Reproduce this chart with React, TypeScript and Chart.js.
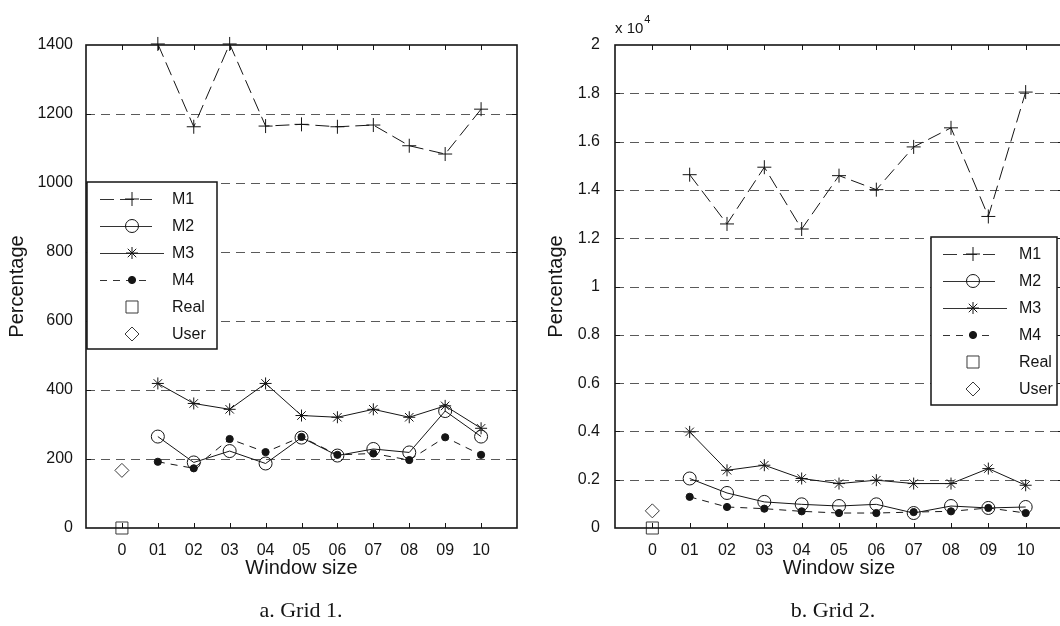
import React, { useEffect, useRef } from 'react';
import { Chart, registerables } from 'chart.js';
import { drawPoint } from 'chart.js/helpers';

Chart.register(...registerables);

// ---------- data ----------
const windowSizes = [1, 2, 3, 4, 5, 6, 7, 8, 9, 10];
const xTickValues = [0, 1, 2, 3, 4, 5, 6, 7, 8, 9, 10];
const xTickLabels = ['0', '01', '02', '03', '04', '05', '06', '07', '08', '09', '10'];
const seriesNames = ['M1', 'M2', 'M3', 'M4', 'Real', 'User'];

// Grid 1
const grid1M1 = [1403, 1163, 1403, 1165, 1170, 1163, 1168, 1108, 1084, 1214];
const grid1M2 = [265, 190, 223, 187, 262, 210, 229, 219, 339, 265];
const grid1M3 = [419, 361, 344, 419, 326, 321, 344, 321, 354, 289];
const grid1M4 = [192, 173, 258, 220, 264, 212, 216, 197, 263, 212];
const grid1Real = [0];
const grid1User = [167];
const grid1YTicks = [0, 200, 400, 600, 800, 1000, 1200, 1400];

// Grid 2
const grid2M1 = [14630, 12590, 14940, 12380, 14590, 14010, 15780, 16570, 12900, 18050];
const grid2M2 = [2050, 1450, 1080, 980, 910, 980, 620, 910, 830, 870];
const grid2M3 = [3980, 2390, 2600, 2050, 1840, 1980, 1840, 1840, 2460, 1770];
const grid2M4 = [1290, 870, 800, 690, 620, 620, 660, 690, 830, 620];
const grid2Real = [0];
const grid2User = [710];
const grid2YTicks = [0, 2000, 4000, 6000, 8000, 10000, 12000, 14000, 16000, 18000, 20000];

const FONT = '"Liberation Sans", Arial, Helvetica, sans-serif';
const INK = '#151515';

function pts(xs: number[], ys: number[]) {
  return ys.map((y, i) => ({ x: xs[i], y }));
}

function buildDatasets(m1: number[], m2: number[], m3: number[], m4: number[], real: number[], user: number[]) {
  const base = { clip: false as any, borderColor: INK, borderWidth: 1, pointBorderColor: INK, pointBorderWidth: 1, tension: 0 };
  return [
    { ...base, label: seriesNames[0], data: pts(windowSizes, m1), showLine: true, borderDash: [14, 6], pointStyle: 'cross', pointRadius: 7, pointBackgroundColor: 'rgba(0,0,0,0)', legendLine: 52 },
    { ...base, label: seriesNames[1], data: pts(windowSizes, m2), showLine: true, borderDash: [], pointStyle: 'circle', pointRadius: 6.5, pointBackgroundColor: 'rgba(0,0,0,0)', legendLine: 52 },
    { ...base, label: seriesNames[2], data: pts(windowSizes, m3), showLine: true, borderDash: [], pointStyle: 'star', pointRadius: 6, pointBackgroundColor: 'rgba(0,0,0,0)', legendLine: 64 },
    { ...base, label: seriesNames[3], data: pts(windowSizes, m4), showLine: true, borderDash: [7, 6], pointStyle: 'circle', pointRadius: 3.6, pointBackgroundColor: INK, legendLine: 52 },
    { ...base, label: seriesNames[4], data: pts([0], real), showLine: false, pointStyle: 'rect', pointRadius: 8.5, pointBorderColor: '#3a3a3a', pointBackgroundColor: 'rgba(0,0,0,0)', legendLine: 0 },
    { ...base, label: seriesNames[5], data: pts([0], user), showLine: false, pointStyle: 'rectRot', pointRadius: 7, pointBorderColor: '#3a3a3a', pointBackgroundColor: 'rgba(0,0,0,0)', legendLine: 0 },
  ];
}

const decorPlugin = {
  id: 'decor',
  beforeDatasetsDraw(chart: any, _args: any, opts: any) {
    const { ctx, chartArea } = chart;
    const y = chart.scales.y;
    ctx.save();
    ctx.strokeStyle = '#5a5a5a';
    ctx.lineWidth = 1.1;
    ctx.setLineDash([9, 6]);
    (opts.yTicks as number[]).forEach((v, i, arr) => {
      if (i === 0 || i === arr.length - 1) return;
      const py = Math.round(y.getPixelForValue(v)) + 0.5;
      ctx.beginPath();
      ctx.moveTo(chartArea.left, py);
      ctx.lineTo(chartArea.right, py);
      ctx.stroke();
    });
    ctx.restore();
  },
  afterDatasetsDraw(chart: any, _args: any, opts: any) {
    const { ctx, chartArea } = chart;
    const xs = chart.scales.x;
    const ys = chart.scales.y;
    ctx.save();
    // axes box
    ctx.strokeStyle = INK;
    ctx.lineWidth = 1.6;
    ctx.setLineDash([]);
    ctx.strokeRect(chartArea.left, chartArea.top, chartArea.right - chartArea.left, chartArea.bottom - chartArea.top);
    // inward ticks
    ctx.lineWidth = 1;
    const tl = 5;
    xTickValues.forEach((v) => {
      const px = Math.round(xs.getPixelForValue(v)) + 0.5;
      ctx.beginPath();
      ctx.moveTo(px, chartArea.bottom);
      ctx.lineTo(px, chartArea.bottom - tl);
      ctx.moveTo(px, chartArea.top);
      ctx.lineTo(px, chartArea.top + tl);
      ctx.stroke();
    });
    (opts.yTicks as number[]).forEach((v, i, arr) => {
      if (i === 0 || i === arr.length - 1) return;
      const py = Math.round(ys.getPixelForValue(v)) + 0.5;
      ctx.beginPath();
      ctx.moveTo(chartArea.left, py);
      ctx.lineTo(chartArea.left + tl, py);
      ctx.moveTo(chartArea.right, py);
      ctx.lineTo(chartArea.right - tl, py);
      ctx.stroke();
    });
    // exponent label
    if (opts.exponent) {
      ctx.fillStyle = INK;
      ctx.textBaseline = 'alphabetic';
      ctx.textAlign = 'left';
      ctx.font = `15px ${FONT}`;
      const base = 'x 10';
      ctx.fillText(base, chartArea.left, 33);
      const w = ctx.measureText(base).width;
      ctx.font = `11px ${FONT}`;
      ctx.fillText(opts.exponent, chartArea.left + w + 1, 23);
    }
    // legend
    const L = opts.legend;
    ctx.fillStyle = '#ffffff';
    ctx.fillRect(L.x, L.y, L.w, L.h);
    ctx.strokeStyle = INK;
    ctx.lineWidth = 1.5;
    ctx.strokeRect(L.x, L.y, L.w, L.h);
    chart.data.datasets.forEach((ds: any, i: number) => {
      const cy = L.y + 17 + i * 27;
      if (ds.showLine && ds.legendLine) {
        ctx.strokeStyle = '#333';
        ctx.lineWidth = 1;
        ctx.setLineDash(ds.borderDash || []);
        ctx.beginPath();
        ctx.moveTo(L.x + L.lineStart, cy + 0.5);
        ctx.lineTo(L.x + L.lineStart + ds.legendLine, cy + 0.5);
        ctx.stroke();
        ctx.setLineDash([]);
      }
      ctx.strokeStyle = ds.pointBorderColor;
      ctx.fillStyle = ds.pointBackgroundColor;
      ctx.lineWidth = 1;
      drawPoint(ctx, { pointStyle: ds.pointStyle, radius: ds.pointRadius, rotation: 0, borderWidth: 1 } as any, L.x + L.marker, cy);
      ctx.fillStyle = INK;
      ctx.font = `16px ${FONT}`;
      ctx.textAlign = 'left';
      ctx.textBaseline = 'middle';
      ctx.fillText(ds.label, L.x + L.text, cy + 1);
    });
    ctx.restore();
  },
};

function makeConfig(datasets: any[], p: any) {
  return {
    type: 'scatter' as const,
    data: { datasets },
    plugins: [decorPlugin],
    options: {
      animation: false as const,
      responsive: false,
      layout: { padding: { top: 45, right: p.rightPad, left: 0, bottom: 0 } },
      plugins: {
        legend: { display: false },
        tooltip: { enabled: false },
        decor: { yTicks: p.yTicks, legend: p.legend, exponent: p.exponent },
      },
      scales: {
        x: {
          type: 'linear',
          min: -1,
          max: 11,
          afterBuildTicks: (s: any) => {
            s.ticks = xTickValues.map((v) => ({ value: v }));
          },
          afterFit: (s: any) => {
            s.height = 98;
          },
          grid: { display: false },
          border: { display: false },
          ticks: {
            autoSkip: false,
            maxRotation: 0,
            padding: 5,
            color: INK,
            font: { family: FONT, size: 16 },
            callback: (v: any) => {
              const i = xTickValues.indexOf(Number(v));
              return i >= 0 ? xTickLabels[i] : '';
            },
          },
          title: { display: true, text: 'Window size', color: INK, font: { family: FONT, size: 20 }, padding: { top: 0, bottom: 46 } },
        },
        y: {
          min: p.yTicks[0],
          max: p.yTicks[p.yTicks.length - 1],
          afterBuildTicks: (s: any) => {
            s.ticks = p.yTicks.map((v: number) => ({ value: v }));
          },
          afterFit: (s: any) => {
            s.width = p.yWidth;
          },
          grid: { display: false },
          border: { display: false },
          ticks: {
            padding: p.yPad,
            color: INK,
            font: { family: FONT, size: 16 },
            callback: p.yFormat,
          },
          title: { display: true, text: 'Percentage', color: INK, font: { family: FONT, size: 20 }, padding: { top: p.titlePad, bottom: 0 } },
        },
      },
    },
  };
}

export default function App() {
  const leftRef = useRef<HTMLCanvasElement | null>(null);
  const rightRef = useRef<HTMLCanvasElement | null>(null);

  useEffect(() => {
    const c1 = new Chart(
      leftRef.current as HTMLCanvasElement,
      makeConfig(buildDatasets(grid1M1, grid1M2, grid1M3, grid1M4, grid1Real, grid1User), {
        rightPad: 13,
        yTicks: grid1YTicks,
        yWidth: 86,
        yPad: 5,
        titlePad: 5,
        yFormat: (v: any) => String(v),
        legend: { x: 87, y: 182, w: 130, h: 167, lineStart: 13, marker: 45, text: 85 },
        exponent: '',
      }) as any
    );
    const c2 = new Chart(
      rightRef.current as HTMLCanvasElement,
      makeConfig(buildDatasets(grid2M1, grid2M2, grid2M3, grid2M4, grid2Real, grid2User), {
        rightPad: 27,
        yTicks: grid2YTicks,
        yWidth: 85,
        yPad: 7,
        titlePad: 14,
        yFormat: (v: any) => String(Number(v) / 10000),
        legend: { x: 401, y: 237, w: 126, h: 168, lineStart: 12, marker: 42, text: 88 },
        exponent: '4',
      }) as any
    );
    return () => {
      c1.destroy();
      c2.destroy();
    };
  }, []);

  const captionStyle: React.CSSProperties = {
    position: 'absolute',
    top: 598,
    width: 300,
    textAlign: 'center',
    fontFamily: '"Liberation Serif", "Times New Roman", serif',
    fontSize: 22,
    lineHeight: '24px',
    color: INK,
  };

  return (
    <div style={{ position: 'fixed', left: 0, top: 0, width: 1060, height: 626, overflow: 'hidden', background: '#fff' }}>
      <canvas ref={leftRef} width={530} height={626} style={{ position: 'absolute', left: 0, top: 0 }} />
      <canvas ref={rightRef} width={560} height={626} style={{ position: 'absolute', left: 530, top: 0 }} />
      <div style={{ ...captionStyle, left: 301 - 150 }}>a. Grid 1.</div>
      <div style={{ ...captionStyle, left: 833 - 150 }}>b. Grid 2.</div>
    </div>
  );
}
